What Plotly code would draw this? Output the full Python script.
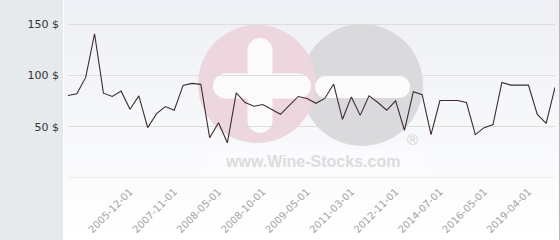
import plotly.graph_objects as go

# ---- data ----
point_index = list(range(56))
price_usd = [80.4, 82, 98, 140.5, 82.6, 79.4, 84.6, 67, 80, 49,
             62.7, 69.6, 66, 90.2, 92.2, 91.2, 39.2, 53.9, 34.3, 83,
             73.5, 69.9, 71.6, 66.7, 62, 70.7, 79.4, 77.5, 72.8, 77.5,
             91.5, 57.2, 79, 61, 80, 73.5, 66, 75.1, 46.4, 84.1,
             81.2, 42.2, 75.5, 75.5, 75.5, 73.5, 42.2, 49, 52, 93.1,
             90.5, 90.5, 90.5, 62, 53.2, 88.2]
x_tick_index = [7, 12, 17, 22, 27, 32, 37, 42, 47, 52]
x_tick_labels = ["2005-12-01", "2007-11-01", "2008-05-01", "2008-10-01", "2009-05-01",
                 "2011-03-01", "2012-11-01", "2014-07-01", "2016-05-01", "2019-04-01"]
y_tick_values = [0, 50, 100, 150]
y_tick_labels = ["", "50 $", "100 $", "150 $"]

# ---- geometry helpers (pixel -> paper) ----
W, H = 560, 240
ML, MR, MT, MB = 68, 5, 10, 62
PW = W - ML - MR
PH = H - MT - MB


def px(x):
    return (x - ML) / PW


def py(y):
    return (H - MB - y) / PH


shapes = []


def rect(x0, y0, x1, y1, color, line=None, opacity=1.0):
    shapes.append(dict(type="rect", xref="paper", yref="paper",
                       x0=px(x0), x1=px(x1), y0=py(y1), y1=py(y0),
                       fillcolor=color, line=dict(width=0) if line is None else line,
                       layer="below", opacity=opacity))


def circle(cx, cy, r, color, opacity=1.0):
    shapes.append(dict(type="circle", xref="paper", yref="paper",
                       x0=px(cx - r), x1=px(cx + r), y0=py(cy + r), y1=py(cy - r),
                       fillcolor=color, line=dict(width=0), layer="below", opacity=opacity))


def pill_h(x0, x1, yc, h, color):
    r = h / 2
    rect(x0 + r, yc - r, x1 - r, yc + r, color)
    circle(x0 + r, yc, r, color)
    circle(x1 - r, yc, r, color)


def pill_v(y0, y1, xc, w, color):
    r = w / 2
    rect(xc - r, y0 + r, xc + r, y1 - r, color)
    circle(xc, y0 + r, r, color)
    circle(xc, y1 - r, r, color)


# left panel
rect(0, 0, 63, H, "#e6eaed")
# gradient plot background
top = (238, 240, 245)
bot = (255, 255, 255)
n = 24
for i in range(n):
    t = i / (n - 1)
    c = tuple(int(round(top[k] + (bot[k] - top[k]) * t)) for k in range(3))
    y0 = i * H / n
    y1 = (i + 1) * H / n + 0.5
    rect(64, y0, 559, y1, "rgb(%d,%d,%d)" % c)
# right border
shapes.append(dict(type="line", xref="paper", yref="paper", x0=px(559.5), x1=px(559.5),
                   y0=py(H), y1=py(0), line=dict(color="#b8b8b8", width=1), layer="below"))

# watermark
circle(362, 85, 61, "#dadadc")
circle(257, 84, 59, "#edd6dd")
pill_v(38, 133, 260, 25, "#fbfbfc")
pill_h(213, 311, 86, 25, "#fbfbfc")
pill_h(315, 410, 87, 22, "#fbfbfc")
rect(205, 150, 428, 175, "#ffffff", opacity=0.3)

# zero gridline
shapes.append(dict(type="line", xref="paper", yref="y", x0=0, x1=1, y0=0, y1=0,
                   line=dict(color="#dddddd", width=1), layer="below"))

fig = go.Figure()
fig.add_trace(go.Scatter(x=point_index, y=price_usd, mode="lines",
                         line=dict(color="#3d2a33", width=1.1), hoverinfo="skip"))

fig.update_layout(
    width=W, height=H,
    margin=dict(l=ML, r=MR, t=MT, b=MB, pad=0),
    paper_bgcolor="#ffffff",
    plot_bgcolor="rgba(0,0,0,0)",
    showlegend=False,
    shapes=shapes,
    font=dict(family="DejaVu Sans"),
    annotations=[
        dict(text="<b>www.Wine-Stocks.com</b>", xref="paper", yref="paper", x=px(312), y=py(161),
             showarrow=False, font=dict(family="Liberation Sans", size=16, color="#dcdcde"),
             xanchor="center", yanchor="middle"),
        dict(text="®", xref="paper", yref="paper", x=px(412), y=py(139),
             showarrow=False, font=dict(family="Liberation Sans", size=15, color="#d0d0d2"),
             xanchor="center", yanchor="middle"),
    ],
)

fig.update_xaxes(range=[0, 55], tickmode="array", tickvals=x_tick_index, ticktext=x_tick_labels,
                 tickangle=-45, showgrid=False, zeroline=False, showline=False, ticks="",
                 ticklabelstandoff=5,
                 tickfont=dict(family="DejaVu Sans", size=10, color="#a3a3a3"))
fig.update_yaxes(range=[0, PH / 1.02667], tickmode="array", tickvals=y_tick_values,
                 ticktext=y_tick_labels, showgrid=True, gridcolor="#dddddd", gridwidth=1,
                 zeroline=False, showline=False, ticks="", ticklabelstandoff=8,
                 tickfont=dict(family="DejaVu Sans", size=11, color="#333333"))

fig.write_html("out.html")
